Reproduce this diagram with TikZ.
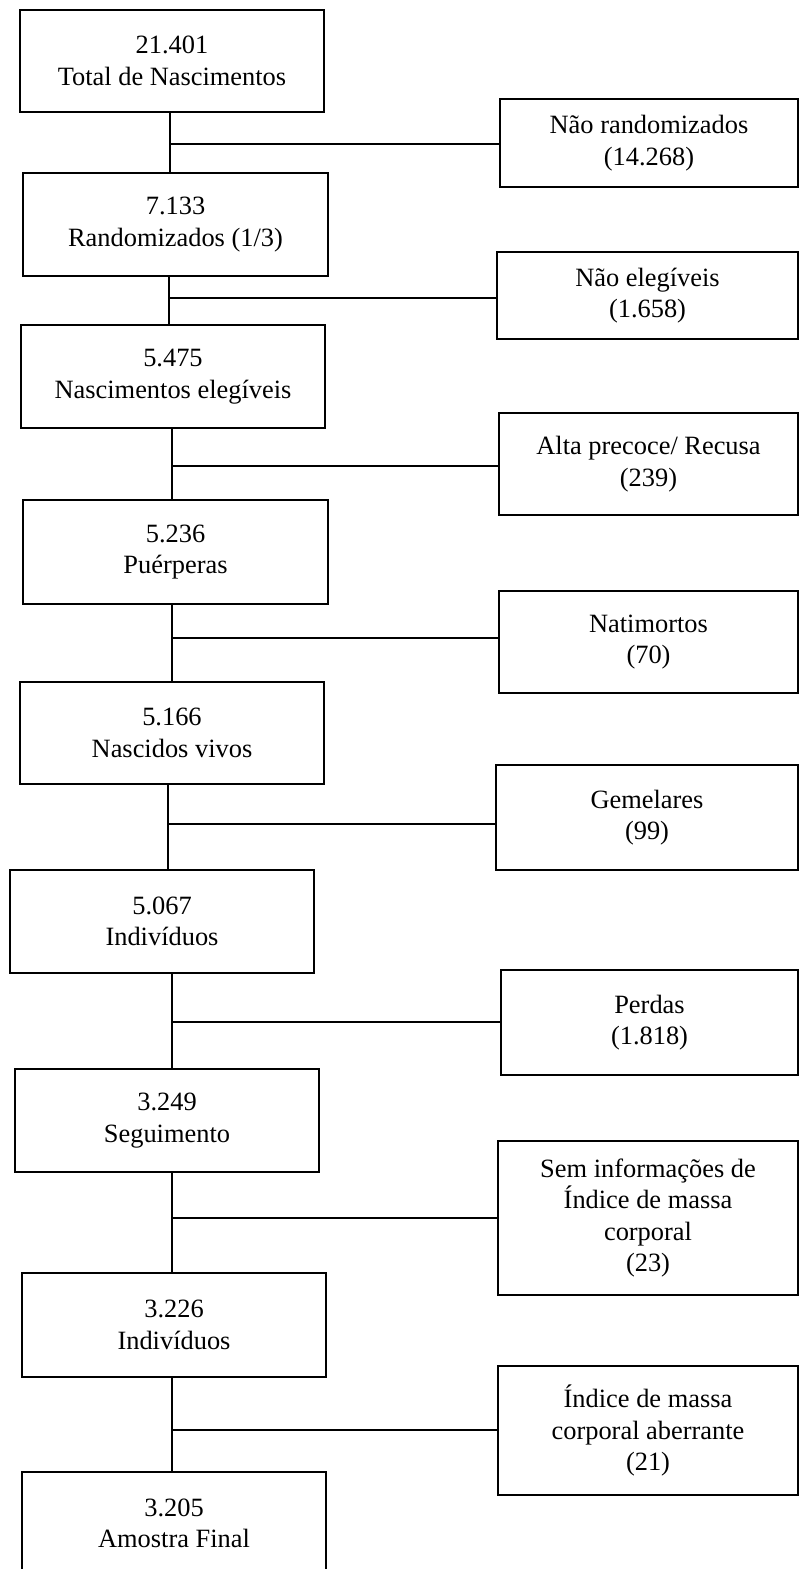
\documentclass[tikz,border=0pt]{standalone}
\usepackage{fontspec}
\setmainfont{Liberation Serif}
\begin{document}
\begin{tikzpicture}[x=0.5pt,y=-0.5pt,
  stagebox/.style={draw=black,line width=1.3pt,fill=white,inner sep=0pt,outer sep=0pt,align=center,
    font=\fontsize{13.2}{15.75}\selectfont},
  flowline/.style={draw=black,line width=0.9pt}]
\useasboundingbox (0,0) rectangle (799,1569);
% main column
\node[stagebox,minimum width=152pt,minimum height=51pt]   (B1) at (172,61)     {21.401\\Total de Nascimentos};
\node[stagebox,minimum width=152.5pt,minimum height=51.5pt] (B2) at (175.5,224.5) {7.133\\Randomizados (1/3)};
\node[stagebox,minimum width=152pt,minimum height=51.5pt] (B3) at (173,376.5)  {5.475\\Nascimentos elegíveis};
\node[stagebox,minimum width=152.5pt,minimum height=52pt] (B4) at (175.5,552)  {5.236\\Puérperas};
\node[stagebox,minimum width=152pt,minimum height=51pt]   (B5) at (172,733)    {5.166\\Nascidos vivos};
\node[stagebox,minimum width=152pt,minimum height=51.5pt] (B6) at (162,921.5)  {5.067\\Indivíduos};
\node[stagebox,minimum width=152pt,minimum height=51.5pt] (B7) at (167,1120.5) {3.249\\Seguimento};
\node[stagebox,minimum width=152pt,minimum height=52pt]   (B8) at (174,1325)   {3.226\\Indivíduos};
\node[stagebox,minimum width=152pt,minimum height=51.5pt] (B9) at (174,1523.5) {3.205\\Amostra Final};
% exclusion boxes
\node[stagebox,minimum width=149pt,minimum height=44pt]   (R1) at (649,143)    {Não randomizados\\(14.268)};
\node[stagebox,minimum width=150.5pt,minimum height=43.5pt] (R2) at (647.5,295.5) {Não elegíveis\\(1.658)};
\node[stagebox,minimum width=149.5pt,minimum height=51pt] (R3) at (648.5,464)  {Alta precoce/ Recusa\\(239)};
\node[stagebox,minimum width=149.5pt,minimum height=51pt] (R4) at (648.5,642)  {Natimortos\\(70)};
\node[stagebox,minimum width=151pt,minimum height=52.5pt] (R5) at (647,817.5)  {Gemelares\\(99)};
\node[stagebox,minimum width=148.5pt,minimum height=52.5pt] (R6) at (649.5,1022.5) {Perdas\\(1.818)};
\node[stagebox,minimum width=150pt,minimum height=77pt]   (R7) at (648,1218)   {Sem informações de\\Índice de massa\\corporal\\(23)};
\node[stagebox,minimum width=150pt,minimum height=64.5pt] (R8) at (648,1430.5) {Índice de massa\\corporal aberrante\\(21)};
% junctions
\coordinate (j1) at (170,144);
\coordinate (j2) at (169,298);
\coordinate (j3) at (172,466);
\coordinate (j4) at (172,638);
\coordinate (j5) at (168,824);
\coordinate (j6) at (172,1022);
\coordinate (j7) at (172,1218);
\coordinate (j8) at (172,1430);
% vertical connectors
\draw[flowline] (B1.south -| j1) -- (B2.north -| j1);
\draw[flowline] (B2.south -| j2) -- (B3.north -| j2);
\draw[flowline] (B3.south -| j3) -- (B4.north -| j3);
\draw[flowline] (B4.south -| j4) -- (B5.north -| j4);
\draw[flowline] (B5.south -| j5) -- (B6.north -| j5);
\draw[flowline] (B6.south -| j6) -- (B7.north -| j6);
\draw[flowline] (B7.south -| j7) -- (B8.north -| j7);
\draw[flowline] (B8.south -| j8) -- (B9.north -| j8);
% horizontal connectors
\draw[flowline] (j1) -- (j1 -| R1.west);
\draw[flowline] (j2) -- (j2 -| R2.west);
\draw[flowline] (j3) -- (j3 -| R3.west);
\draw[flowline] (j4) -- (j4 -| R4.west);
\draw[flowline] (j5) -- (j5 -| R5.west);
\draw[flowline] (j6) -- (j6 -| R6.west);
\draw[flowline] (j7) -- (j7 -| R7.west);
\draw[flowline] (j8) -- (j8 -| R8.west);
\end{tikzpicture}
\end{document}
